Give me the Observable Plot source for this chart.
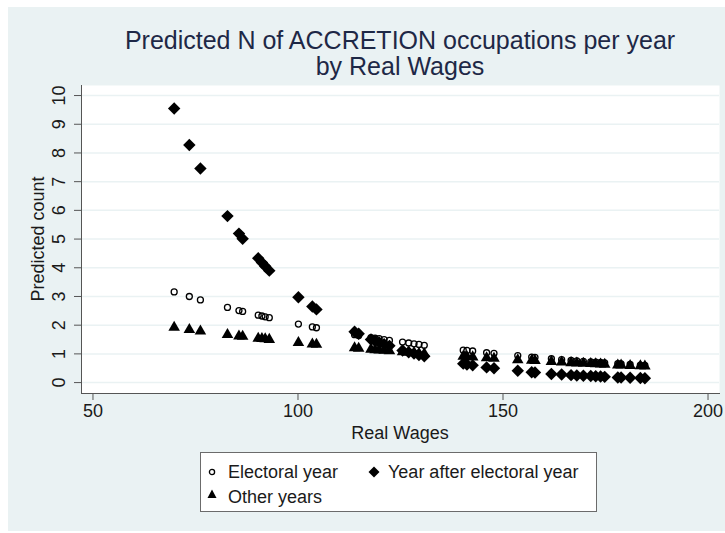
<!DOCTYPE html>
<html>
<head>
<meta charset="utf-8">
<script src="https://cdn.jsdelivr.net/npm/d3@7"></script>
<script src="https://cdn.jsdelivr.net/npm/@observablehq/plot@0.6"></script>
<style>
  html, body { margin: 0; padding: 0; background: #ffffff; }
  #wrap { position: relative; width: 725px; height: 533px; overflow: hidden; font-family: "Liberation Sans", Arial, sans-serif; }
  #bg { position: absolute; left: 8px; top: 7px; width: 717px; height: 524px; background: #eaf2f3; }
  #chart { position: absolute; left: 0; top: 0; }
  .title { position: absolute; left: 81px; width: 638px; text-align: center; font-size: 25px; line-height: 27px; color: #1e2846; white-space: nowrap; }
  .axt { position: absolute; font-size: 18px; line-height: 18px; color: #1a1a1a; white-space: nowrap; text-align: center; }
  #legend { position: absolute; left: 200px; top: 452px; width: 397px; height: 60px; background: #ffffff; border: 1px solid #6b6b6b; box-sizing: border-box; }
  .lt { position: absolute; font-size: 18px; line-height: 18px; color: #1a1a1a; white-space: nowrap; }
  .ls { position: absolute; }
</style>
</head>
<body>
<div id="wrap">
  <div id="bg"></div>
  <div id="chart"></div>
  <div class="title" style="top:27px">Predicted N of ACCRETION occupations per year</div>
  <div class="title" style="top:53px">by Real Wages</div>
  <div class="axt" style="left:300px; width:200px; top:424px">Real Wages</div>
  <div class="axt" style="left:-62px; width:200px; top:230px; transform: rotate(-90deg);">Predicted count</div>
  <div id="legend">
    <svg class="ls" style="left:5px; top:13px" width="12" height="12"><circle cx="6" cy="6" r="2.6" fill="none" stroke="#000" stroke-width="1.3"/></svg>
    <div class="lt" style="left:27px; top:10px">Electoral year</div>
    <svg class="ls" style="left:166px; top:12px" width="14" height="14"><path d="M7,1.5L12.5,7L7,12.5L1.5,7Z" fill="#000"/></svg>
    <div class="lt" style="left:187px; top:10px">Year after electoral year</div>
    <svg class="ls" style="left:5px; top:35px" width="12" height="12"><path d="M6,1.5L10.5,10L1.5,10Z" fill="#000"/></svg>
    <div class="lt" style="left:27px; top:35px">Other years</div>
  </div>
</div>
<script>
const wages = [69.8, 73.5, 76.2, 82.8, 85.6, 86.5, 90.3, 91.2, 92.0, 93.0,
  100.1, 103.5, 104.5, 113.8, 114.8, 117.8, 118.8, 119.8, 121.0, 122.3,
  125.5, 127.0, 128.3, 129.5, 130.8, 140.3, 141.2, 142.6, 146.0, 147.8,
  153.6, 157.0, 157.8, 161.8, 164.3, 166.6, 168.0, 169.6, 171.4, 172.6,
  173.8, 174.8, 178.0, 178.8, 181.0, 183.5, 184.6];
const electoral = [3.16, 3.00, 2.88, 2.62, 2.51, 2.48, 2.35, 2.32, 2.29, 2.26,
  2.04, 1.94, 1.91, 1.67, 1.64, 1.57, 1.55, 1.53, 1.50, 1.47,
  1.41, 1.38, 1.35, 1.33, 1.30, 1.13, 1.12, 1.10, 1.04, 1.02,
  0.94, 0.89, 0.88, 0.83, 0.80, 0.77, 0.76, 0.74, 0.72, 0.71,
  0.70, 0.69, 0.66, 0.65, 0.63, 0.61, 0.60];
const afterElectoral = [9.55, 8.28, 7.46, 5.80, 5.19, 5.01, 4.33, 4.18, 4.05, 3.90,
  2.97, 2.65, 2.55, 1.77, 1.70, 1.50, 1.45, 1.40, 1.34, 1.28,
  1.12, 1.06, 1.01, 0.96, 0.92, 0.66, 0.63, 0.60, 0.53, 0.50,
  0.41, 0.36, 0.35, 0.30, 0.28, 0.26, 0.25, 0.24, 0.23, 0.22,
  0.21, 0.20, 0.18, 0.18, 0.17, 0.16, 0.15];
const otherYears = [1.92, 1.84, 1.79, 1.67, 1.62, 1.61, 1.54, 1.53, 1.52, 1.50,
  1.39, 1.34, 1.33, 1.21, 1.19, 1.16, 1.14, 1.13, 1.12, 1.10,
  1.07, 1.05, 1.04, 1.02, 1.01, 0.91, 0.90, 0.89, 0.86, 0.84,
  0.79, 0.77, 0.76, 0.73, 0.71, 0.69, 0.68, 0.67, 0.66, 0.65,
  0.64, 0.63, 0.61, 0.61, 0.59, 0.58, 0.57];
const xTicks = [50, 100, 150, 200];
const yTicks = [0, 1, 2, 3, 4, 5, 6, 7, 8, 9, 10];
const xDomain = [47.2, 202.8];
const yDomain = [-0.38, 10.35];

const elecRows = wages.map((w, i) => ({w, v: electoral[i]}));
const afterRows = wages.map((w, i) => ({w, v: afterElectoral[i]}));
const otherRows = wages.map((w, i) => ({w, v: otherYears[i]}));

const chart = Plot.plot({
  width: 725,
  height: 533,
  marginLeft: 81,
  marginRight: 6,
  marginTop: 85,
  marginBottom: 140,
  style: {background: "transparent", fontFamily: "'Liberation Sans', Arial, sans-serif", color: "#1a1a1a"},
  x: {domain: xDomain},
  y: {domain: yDomain},
  marks: [
    Plot.frame({fill: "#ffffff", stroke: null}),
    Plot.gridY(yTicks, {stroke: "#eaf2f3", strokeOpacity: 1, strokeWidth: 1.5}),
    Plot.axisY(yTicks, {tickSize: 7, tickRotate: -90, tickPadding: 10, fontSize: 18, label: null, stroke: "#555"}),
    Plot.axisX(xTicks, {tickSize: 7, tickPadding: 4, fontSize: 18, label: null, stroke: "#555"}),
    Plot.frame({anchor: "left", stroke: "#555"}),
    Plot.frame({anchor: "bottom", stroke: "#555"}),
    Plot.dot(elecRows, {x: "w", y: "v", r: 3, symbol: "circle", fill: "none", stroke: "#000", strokeWidth: 1.3}),
    Plot.dot(afterRows, {x: "w", y: "v", r: 5.6, symbol: "diamond2", fill: "#000", stroke: null}),
    Plot.dot(otherRows, {x: "w", y: "v", r: 4.3, symbol: "triangle", fill: "#000", stroke: null})
  ]
});
document.getElementById("chart").appendChild(chart);
</script>
</body>
</html>
